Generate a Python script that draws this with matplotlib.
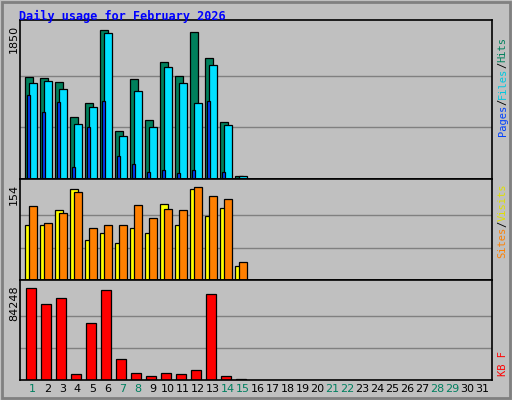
import matplotlib.pyplot as plt
from matplotlib.patches import Rectangle
import numpy as np

days = list(range(1, 32))
hits = [1214, 1202, 1153, 742, 911, 1782, 573, 1190, 706, 1395, 1226, 1758, 1444, 682, 41]
files = [1141, 1166, 1069, 658, 863, 1746, 513, 1045, 621, 1335, 1141, 911, 1359, 646, 30]
pages = [1008, 803, 924, 138, 621, 936, 271, 174, 89, 105, 77, 105, 936, 89, 10]
visits = [117, 91, 106, 140, 83, 87, 88, 119, 99, 112, 111, 148, 133, 128, 29]
sites = [88, 88, 111, 144, 63, 74, 58, 82, 75, 120, 87, 144, 101, 115, 22]
kbytes = [80700, 66500, 71800, 5300, 49700, 78900, 18600, 6200, 3500, 6200, 5300, 8900, 75400, 3500, 800]
weekend = [1, 7, 8, 14, 15, 21, 22, 28, 29]

W, H = 512, 400
bg = "#C0C0C0"
fig = plt.figure(figsize=(W / 100, H / 100), dpi=100, facecolor=bg)
fig.patches.append(Rectangle((2, 2), W - 4, H - 4, transform=None, fill=False,
                             edgecolor="#808080", linewidth=2))
fig.text(19 / W, 1 - 16 / H, "Daily usage for February 2026", color="#0000FF",
         family="DejaVu Sans Mono", fontweight="bold", fontsize=8.5, va="center")


def panel(top, bottom, vmax, label):
    ax = fig.add_axes([20 / W, 1 - bottom / H, 472 / W, (bottom - top) / H])
    ax.set_facecolor(bg)
    ax.set_xlim(-5 / 15, 31 + 2 / 15)
    ax.set_ylim(0, vmax * (bottom - top) / (bottom - top - 4))
    for g in (1 / 3, 2 / 3):
        ax.axhline(vmax * g, color="#808080", lw=1, zorder=0)
    ax.set_xticks([])
    ax.set_yticks([])
    for s in ax.spines.values():
        s.set_linewidth(1.2)
    fig.text(14 / W, 1 - (top + 5) / H, label, rotation=90,
             ha="center", va="top", fontsize=8, family="DejaVu Sans")
    return ax


def bars(ax, vals, off, width, color):
    x = np.arange(len(vals)) + off / 15
    ax.bar(x, vals, width=width / 15, align="edge", color=color,
           edgecolor="black", linewidth=0.9, zorder=2)


ax1 = panel(20, 179, 1850, "1850")
bars(ax1, hits, 0.3, 7.4, "#00805C")
bars(ax1, files, 4.3, 7.4, "#00E0FF")
bars(ax1, pages, 2.0, 2.6, "#0040FF")

ax2 = panel(179, 280, 154, "154")
bars(ax2, sites, 0.3, 7.4, "#FFFF00")
bars(ax2, visits, 4.3, 7.4, "#FF8000")

ax3 = panel(280, 380, 84248, "84248")
bars(ax3, kbytes, 0.5, 10.5, "#FF0000")


def side_label(ax, parts, ystart):
    y = ystart
    h = ax.get_position().height * H
    for txt, col in parts:
        ax.text(1.012, y, txt, transform=ax.transAxes, rotation=90, color=col,
                ha="left", va="bottom", family="DejaVu Sans Mono", fontsize=7.5)
        y += len(txt) * 6.2 / h


side_label(ax1, [("Pages", "#0040FF"), ("/", "black"), ("Files", "#00C8E0"),
                 ("/", "black"), ("Hits", "#00805C")], 0.27)
side_label(ax2, [("Sites", "#FF8000"), ("/", "black"), ("Visits", "#E0E000")], 0.22)
side_label(ax3, [("KB F", "#FF0000")], 0.04)

for d in days:
    col = "#008060" if d in weekend else "black"
    fig.text((25 + (d - 1) * 15 + 7.5) / W, 1 - 389 / H, str(d), color=col,
             ha="center", va="center", fontsize=8, family="DejaVu Sans")

fig.savefig("out.png", dpi=100, facecolor=bg)
